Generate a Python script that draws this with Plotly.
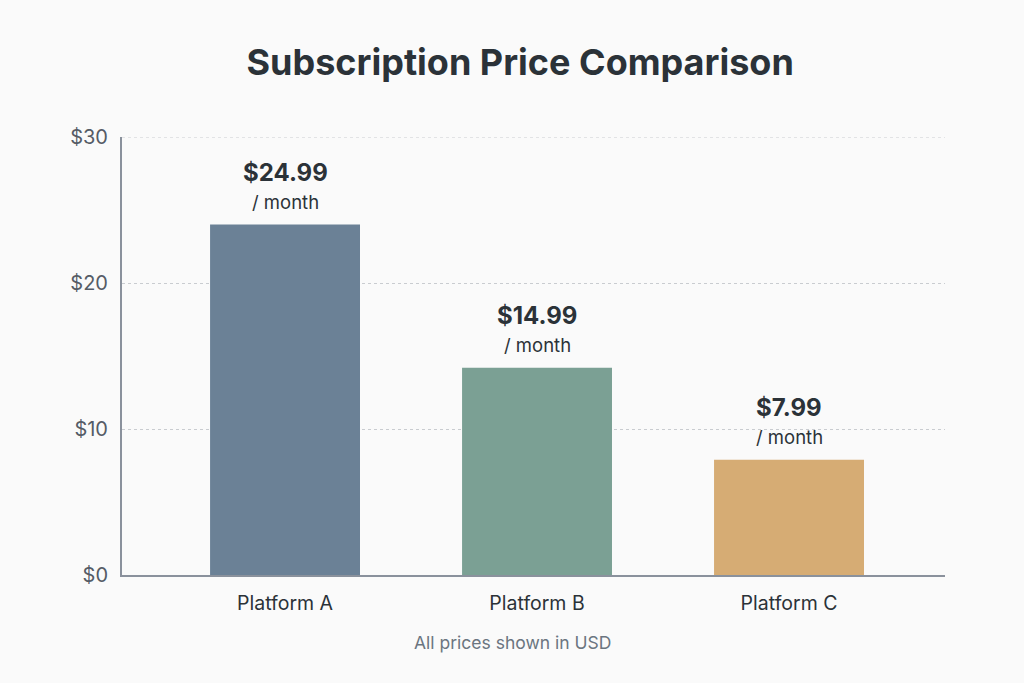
import plotly.graph_objects as go

platforms = ["Platform A", "Platform B", "Platform C"]
bar_heights = [24.0, 14.2, 7.9]
price_labels = ["$24.99", "$14.99", "$7.99"]
colors = ["#6b8196", "#7ba094", "#d6ac74"]
y_ticks = [0, 10, 20, 30]
y_tick_text = ["$0", "$10", "$20", "$30"]

FONT = "Inter, Roboto, sans-serif"
DARK = "#2b3238"
BG = "#fafafa"
GRID = "#c9ccd0"

fig = go.Figure(go.Bar(
    x=platforms, y=bar_heights,
    marker=dict(color=colors, line=dict(width=0)),
    width=0.595, hoverinfo="skip",
))

for p, h, lab in zip(platforms, bar_heights, price_labels):
    fig.add_annotation(x=p, y=h, text="<b>" + lab + "</b>", showarrow=False,
                       yanchor="bottom", yshift=36,
                       font=dict(family=FONT, size=24, color=DARK))
    fig.add_annotation(x=p, y=h, text="/ month", showarrow=False,
                       yanchor="bottom", yshift=10,
                       font=dict(family=FONT, size=18.5, color=DARK))

# top gridline gets clipped at the axis edge, draw it by hand
fig.add_shape(type="line", xref="paper", x0=0, x1=1, y0=y_ticks[-1], y1=y_ticks[-1],
              line=dict(color=GRID, width=1, dash="dot"), layer="below")

fig.add_annotation(text="All prices shown in USD", xref="paper", yref="paper",
                   x=0.475, y=-0.155, yanchor="middle", showarrow=False,
                   font=dict(family=FONT, size=17.5, color="#6b7580"))

fig.update_layout(
    width=1024, height=683,
    margin=dict(l=122, r=79, t=137, b=108),
    paper_bgcolor=BG, plot_bgcolor=BG,
    font=dict(family=FONT, color=DARK),
    title=dict(text="<b>Subscription Price Comparison</b>", x=0.508, xanchor="center",
               y=1 - 62 / 683, yanchor="middle", yref="container",
               font=dict(family=FONT, size=36, color=DARK)),
    showlegend=False,
)
fig.update_xaxes(range=[-0.647, 2.619], showline=True, linecolor="#8a919c", linewidth=2,
                 showgrid=False, ticks="", tickfont=dict(family=FONT, size=19.5, color=DARK),
                 ticklabelstandoff=10)
fig.update_yaxes(range=[0, 30], tickvals=y_ticks, ticktext=y_tick_text,
                 showline=True, linecolor="#8a919c", linewidth=2,
                 showgrid=True, gridcolor=GRID, griddash="dot", gridwidth=1,
                 zeroline=False, ticks="", ticklabelstandoff=8,
                 tickfont=dict(family=FONT, size=20, color="#555c66"))

fig.write_html("out.html", config={"displayModeBar": False},
               post_script="document.body.style.margin='0';"
                           "document.body.style.background='" + BG + "';")
